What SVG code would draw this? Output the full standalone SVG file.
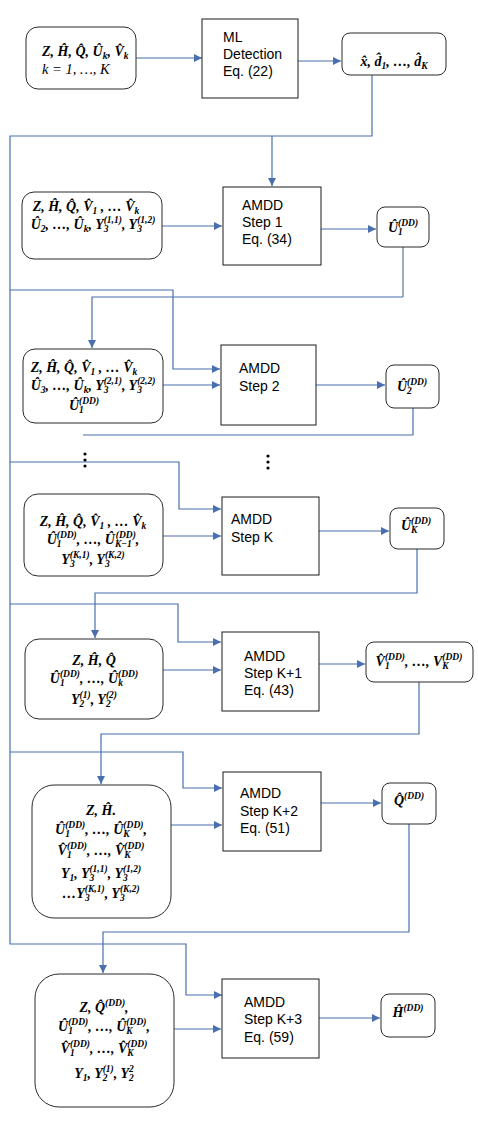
<svg xmlns="http://www.w3.org/2000/svg" width="478" height="1122" viewBox="0 0 478 1122">
<defs>
<style>
.box{fill:#fff;stroke:#1a1a1a;stroke-width:1}
.rbox{fill:#fff;stroke:#2a2a2a;stroke-width:1}
.c{fill:none;stroke:#4a6fae;stroke-width:1.2}
.m{font-family:"Liberation Serif",serif;font-weight:bold;font-style:italic;font-size:14px;fill:#000}
.mi{font-family:"Liberation Serif",serif;font-style:italic;font-size:14.5px;fill:#000}
.t{font-family:"Liberation Sans",Arial,sans-serif;font-size:14px;fill:#000}
.sb{font-size:9.5px;baseline-shift:-3px}
.sp{font-size:9.5px;baseline-shift:6px}
.dot{fill:#000}
</style>
<marker id="ah" viewBox="0 0 10 10" refX="10" refY="5" markerWidth="8" markerHeight="8" markerUnits="userSpaceOnUse" orient="auto">
<path d="M0,0 L10,5 L0,10 z" fill="#4a6fae"/>
</marker>
</defs>
<rect width="478" height="1122" fill="#fff"/>

<g id="connectors">
<path class="c" d="M136,58 H202" marker-end="url(#ah)"/>
<path class="c" d="M298,61 H341" marker-end="url(#ah)"/>
<path class="c" d="M372,75 V136 H10 V944 H186 V995 H222" marker-end="url(#ah)"/>
<path class="c" d="M272,136 V186" marker-end="url(#ah)"/>
<path class="c" d="M162,226 H222" marker-end="url(#ah)"/>
<path class="c" d="M318,229 H376" marker-end="url(#ah)"/>
<path class="c" d="M403,247 V297" style="stroke:#9aa3b0;stroke-width:1.8"/>
<path class="c" d="M403,297 H92 V348" marker-end="url(#ah)"/>
<path class="c" d="M10,290 H173 V369 H220" marker-end="url(#ah)"/>
<path class="c" d="M163,385 H220" marker-end="url(#ah)"/>
<path class="c" d="M316,385 H385" marker-end="url(#ah)"/>
<path class="c" d="M413,408 V435 H83"/>
<path class="c" d="M10,462 H179 V509 H221" marker-end="url(#ah)"/>
<path class="c" d="M163,536 H221" marker-end="url(#ah)"/>
<path class="c" d="M319,531 H389" marker-end="url(#ah)"/>
<path class="c" d="M417,549 V593 H95 V638" marker-end="url(#ah)"/>
<path class="c" d="M10,604 H178 V642 H221" marker-end="url(#ah)"/>
<path class="c" d="M163,670 H221" marker-end="url(#ah)"/>
<path class="c" d="M319,664 H365" marker-end="url(#ah)"/>
<path class="c" d="M419,682 V734 H101 V784" marker-end="url(#ah)"/>
<path class="c" d="M10,752 H183 V788 H222" marker-end="url(#ah)"/>
<path class="c" d="M171,825 H222" marker-end="url(#ah)"/>
<path class="c" d="M321,803 H381" marker-end="url(#ah)"/>
<path class="c" d="M409,824 V932 H103 V973" marker-end="url(#ah)"/>
<path class="c" d="M174,1029 H221" marker-end="url(#ah)"/>
<path class="c" d="M319,1018 H380" marker-end="url(#ah)"/>
</g>

<g id="ellipsis">
<circle class="dot" cx="85" cy="454" r="1.6"/><circle class="dot" cx="85" cy="460" r="1.6"/><circle class="dot" cx="85" cy="466" r="1.6"/>
<circle class="dot" cx="268" cy="456" r="1.6"/><circle class="dot" cx="268" cy="462" r="1.6"/><circle class="dot" cx="268" cy="468" r="1.6"/>
</g>

<g id="in1">
<rect class="rbox" x="26" y="27" width="110" height="62" rx="12"/>
<text class="m" x="42" y="56">Z, H&#x302;, Q&#x302;, U&#x302;<tspan class="sb">k</tspan>, V&#x302;<tspan class="sb">k</tspan></text>
<text class="mi" x="42" y="74">k = 1, …, K</text>
</g>
<g id="ml">
<rect class="box" x="202" y="19" width="96" height="79"/>
<text class="t" x="223" y="42">ML</text>
<text class="t" x="223" y="59">Detection</text>
<text class="t" x="223" y="76">Eq. (22)</text>
</g>
<g id="out1">
<rect class="rbox" x="342" y="33" width="104" height="42" rx="8"/>
<text class="m" x="394" y="66" text-anchor="middle">x&#x302;, d&#x302;<tspan class="sb">1</tspan>, …, d&#x302;<tspan class="sb">K</tspan></text>
</g>

<g id="in2">
<rect class="rbox" x="22" y="192" width="140" height="67" rx="12"/>
<text class="m" x="86" y="211" text-anchor="middle">Z, H&#x302;, Q&#x302;, V&#x302;<tspan class="sb">1</tspan> , … V&#x302;<tspan class="sb">k</tspan></text>
<text class="m" x="93" y="229" text-anchor="middle">U&#x302;<tspan class="sb">2</tspan>, …, U&#x302;<tspan class="sb">k</tspan>, Y<tspan class="sb">3</tspan><tspan class="sp" dx="-4.8">(1,1)</tspan>, Y<tspan class="sb">3</tspan><tspan class="sp" dx="-4.8">(1,2)</tspan></text>
</g>
<g id="s1">
<rect class="box" x="223" y="187" width="98" height="78"/>
<text class="t" x="242" y="210">AMDD</text>
<text class="t" x="242" y="227">Step 1</text>
<text class="t" x="242" y="244">Eq. (34)</text>
</g>
<g id="out2">
<rect class="rbox" x="377" y="207" width="52" height="40" rx="8"/>
<text class="m" x="403" y="232" text-anchor="middle">U&#x302;<tspan class="sb">1</tspan><tspan class="sp" dx="-4.8">(DD)</tspan></text>
</g>

<g id="in3">
<rect class="rbox" x="23" y="349" width="140" height="74" rx="12"/>
<text class="m" x="84" y="372" text-anchor="middle">Z, H&#x302;, Q&#x302;, V&#x302;<tspan class="sb">1</tspan> , … V&#x302;<tspan class="sb">k</tspan></text>
<text class="m" x="93" y="390" text-anchor="middle">U&#x302;<tspan class="sb">3</tspan>, …, U&#x302;<tspan class="sb">k</tspan>, Y<tspan class="sb">3</tspan><tspan class="sp" dx="-4.8">(2,1)</tspan>, Y<tspan class="sb">3</tspan><tspan class="sp" dx="-4.8">(2,2)</tspan></text>
<text class="m" x="84" y="410" text-anchor="middle">U&#x302;<tspan class="sb">1</tspan><tspan class="sp" dx="-4.8">(DD)</tspan></text>
</g>
<g id="s2">
<rect class="box" x="221" y="345" width="95" height="80"/>
<text class="t" x="239" y="373">AMDD</text>
<text class="t" x="239" y="391">Step 2</text>
</g>
<g id="out3">
<rect class="rbox" x="386" y="365" width="53" height="43" rx="8"/>
<text class="m" x="412" y="391" text-anchor="middle">U&#x302;<tspan class="sb">2</tspan><tspan class="sp" dx="-4.8">(DD)</tspan></text>
</g>

<g id="in4">
<rect class="rbox" x="24" y="494" width="139" height="82" rx="14"/>
<text class="m" x="93" y="526" text-anchor="middle">Z, H&#x302;, Q&#x302;, V&#x302;<tspan class="sb">1</tspan> , … V&#x302;<tspan class="sb">k</tspan></text>
<text class="m" x="93" y="544" text-anchor="middle">U&#x302;<tspan class="sb">1</tspan><tspan class="sp" dx="-4.8">(DD)</tspan>, …, U&#x302;<tspan class="sb">K−1</tspan><tspan class="sp" dx="-16">(DD)</tspan>,</text>
<text class="m" x="93" y="564" text-anchor="middle">Y<tspan class="sb">3</tspan><tspan class="sp" dx="-4.8">(K,1)</tspan>, Y<tspan class="sb">3</tspan><tspan class="sp" dx="-4.8">(K,2)</tspan></text>
</g>
<g id="sK">
<rect class="box" x="222" y="497" width="97" height="78"/>
<text class="t" x="231" y="524">AMDD</text>
<text class="t" x="231" y="542">Step K</text>
</g>
<g id="out4">
<rect class="rbox" x="390" y="508" width="54" height="41" rx="8"/>
<text class="m" x="416" y="530" text-anchor="middle">U&#x302;<tspan class="sb">K</tspan><tspan class="sp" dx="-6.3">(DD)</tspan></text>
</g>

<g id="in5">
<rect class="rbox" x="25" y="639" width="138" height="80" rx="14"/>
<text class="m" x="94" y="665" text-anchor="middle">Z, H&#x302;, Q&#x302;</text>
<text class="m" x="94" y="683" text-anchor="middle">U&#x302;<tspan class="sb">1</tspan><tspan class="sp" dx="-4.8">(DD)</tspan>, …, U&#x302;<tspan class="sb">k</tspan><tspan class="sp" dx="-4.8">(DD)</tspan></text>
<text class="m" x="94" y="704" text-anchor="middle">Y<tspan class="sb">2</tspan><tspan class="sp" dx="-4.8">(1)</tspan>, Y<tspan class="sb">2</tspan><tspan class="sp" dx="-4.8">(2)</tspan></text>
</g>
<g id="sK1">
<rect class="box" x="222" y="632" width="97" height="79"/>
<text class="t" x="244" y="661">AMDD</text>
<text class="t" x="244" y="678">Step K+1</text>
<text class="t" x="244" y="695">Eq. (43)</text>
</g>
<g id="out5">
<rect class="rbox" x="366" y="642" width="107" height="40" rx="8"/>
<text class="m" x="419" y="666" text-anchor="middle">V&#x302;<tspan class="sb">1</tspan><tspan class="sp" dx="-4.8">(DD)</tspan>, …, V<tspan class="sb">K</tspan><tspan class="sp" dx="-6.3">(DD)</tspan></text>
</g>

<g id="in6">
<rect class="rbox" x="32" y="785" width="139" height="133" rx="22"/>
<text class="m" x="101" y="815" text-anchor="middle">Z, H&#x302;.</text>
<text class="m" x="101" y="834" text-anchor="middle">U&#x302;<tspan class="sb">1</tspan><tspan class="sp" dx="-4.8">(DD)</tspan>, …, U&#x302;<tspan class="sb">K</tspan><tspan class="sp" dx="-6.3">(DD)</tspan>,</text>
<text class="m" x="101" y="855" text-anchor="middle">V&#x302;<tspan class="sb">1</tspan><tspan class="sp" dx="-4.8">(DD)</tspan>, …, V&#x302;<tspan class="sb">K</tspan><tspan class="sp" dx="-6.3">(DD)</tspan></text>
<text class="m" x="101" y="878" text-anchor="middle">Y<tspan class="sb">1</tspan>, Y<tspan class="sb">3</tspan><tspan class="sp" dx="-4.8">(1,1)</tspan>, Y<tspan class="sb">3</tspan><tspan class="sp" dx="-4.8">(1,2)</tspan></text>
<text class="m" x="101" y="898" text-anchor="middle">…Y<tspan class="sb">3</tspan><tspan class="sp" dx="-4.8">(K,1)</tspan>, Y<tspan class="sb">3</tspan><tspan class="sp" dx="-4.8">(K,2)</tspan></text>
</g>
<g id="sK2">
<rect class="box" x="223" y="772" width="98" height="79"/>
<text class="t" x="240" y="798">AMDD</text>
<text class="t" x="240" y="816">Step K+2</text>
<text class="t" x="240" y="833">Eq. (51)</text>
</g>
<g id="out6">
<rect class="rbox" x="382" y="783" width="54" height="41" rx="8"/>
<text class="m" x="409" y="805" text-anchor="middle">Q&#x302;<tspan class="sp">(DD)</tspan></text>
</g>

<g id="in7">
<rect class="rbox" x="35" y="974" width="139" height="133" rx="24"/>
<text class="m" x="104" y="1012" text-anchor="middle">Z, Q&#x302;<tspan class="sp">(DD)</tspan>,</text>
<text class="m" x="104" y="1031" text-anchor="middle">U&#x302;<tspan class="sb">1</tspan><tspan class="sp" dx="-4.8">(DD)</tspan>, …, U&#x302;<tspan class="sb">K</tspan><tspan class="sp" dx="-6.3">(DD)</tspan>,</text>
<text class="m" x="104" y="1053" text-anchor="middle">V&#x302;<tspan class="sb">1</tspan><tspan class="sp" dx="-4.8">(DD)</tspan>, …, V&#x302;<tspan class="sb">K</tspan><tspan class="sp" dx="-6.3">(DD)</tspan></text>
<text class="m" x="104" y="1078" text-anchor="middle">Y<tspan class="sb">1</tspan>, Y<tspan class="sb">2</tspan><tspan class="sp" dx="-4.8">(1)</tspan>, Y<tspan class="sb">2</tspan><tspan class="sp" dx="-4.8">2</tspan></text>
</g>
<g id="sK3">
<rect class="box" x="222" y="979" width="97" height="79"/>
<text class="t" x="244" y="1007">AMDD</text>
<text class="t" x="244" y="1024">Step K+3</text>
<text class="t" x="244" y="1042">Eq. (59)</text>
</g>
<g id="out7">
<rect class="rbox" x="381" y="994" width="54" height="43" rx="8"/>
<text class="m" x="408" y="1017" text-anchor="middle">H&#x302;<tspan class="sp">(DD)</tspan></text>
</g>
</svg>
